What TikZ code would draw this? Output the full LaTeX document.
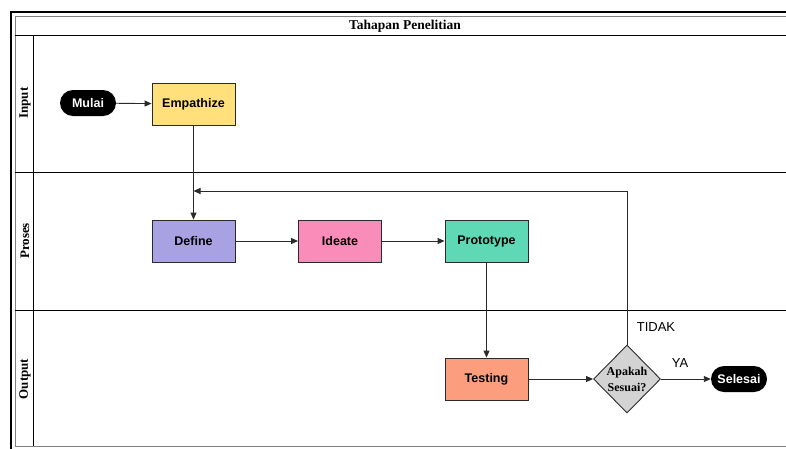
\documentclass[tikz,border=0pt]{standalone}
\usepackage{fontspec}
\setmainfont{Liberation Serif}
\setsansfont{Liberation Sans}
\usetikzlibrary{shapes.geometric,arrows.meta}
\definecolor{cEmp}{HTML}{FFE07A}
\definecolor{cDef}{HTML}{A8A2E3}
\definecolor{cIde}{HTML}{F98CB9}
\definecolor{cPro}{HTML}{5FD8B6}
\definecolor{cTes}{HTML}{FC9E7E}
\definecolor{cDia}{HTML}{D3D3D3}
\definecolor{cLine}{HTML}{2A2A2A}
\tikzset{
  stepbox/.style={draw=cLine, line width=0.9pt, minimum width=83pt, minimum height=42pt, inner sep=0pt,
    font=\sffamily\bfseries\fontsize{12.5}{14}\selectfont},
  pill/.style={fill=black, text=white, rounded corners=13pt, minimum width=56pt, minimum height=26pt, inner sep=0pt,
    font=\sffamily\bfseries\fontsize{12.5}{14}\selectfont},
  conn/.style={draw=cLine, line width=0.9pt, -{Triangle[length=7pt,width=6pt]}},
  lanelabel/.style={rotate=90, font=\rmfamily\bfseries\fontsize{13}{15}\selectfont},
  edgelabel/.style={font=\sffamily\fontsize{13}{15}\selectfont}
}
\begin{document}
\begin{tikzpicture}[x=1pt,y=-1pt]
\useasboundingbox (0,0) rectangle (786,448);
\begin{scope}
\clip (0,0) rectangle (786,448);
% outer frame
\draw[line width=2pt, black] (11,12) rectangle (800,460);
\draw[line width=1pt, gray] (15,16) rectangle (796,446);
% title row
\draw[line width=1pt] (15,35) -- (796,35);
\node[font=\rmfamily\bfseries\fontsize{13.5}{15}\selectfont] (title) at (405,26) {Tahapan Penelitian};
% lane label column
\draw[line width=1pt] (33,35) -- (33,446);
% lane dividers
\draw[line width=1pt] (15,172) -- (796,172);
\draw[line width=1pt] (15,310) -- (796,310);
\end{scope}
\node[lanelabel] (lin) at (25,103) {Input};
\node[lanelabel] (lpr) at (25,241) {Proses};
\node[lanelabel] (lout) at (25,379) {Output};

% nodes
\node[pill] (mulai) at (88,103) {Mulai};
\node[stepbox, fill=cEmp] (emp) at (193.5,104) {Empathize};
\node[stepbox, fill=cDef] (def) at (193.5,241) {Define};
\node[stepbox, fill=cIde] (ide) at (340,241) {Ideate};
\node[stepbox, fill=cPro] (pro) at (486.5,241) {Prototype};
\node[stepbox, fill=cTes] (tes) at (486.5,379) {Testing};
\node[diamond, draw=cLine, line width=0.9pt, fill=cDia, minimum width=67pt, minimum height=68pt, inner sep=0pt,
  label={[align=center, font=\rmfamily\bfseries\fontsize{12}{16}\selectfont]center:Apakah\\Sesuai?}] (dec) at (627,379) {};
\node[pill] (selesai) at (739,379) {Selesai};

\coordinate (fb) at (193.5,191);

% connectors
\draw[conn] (mulai) -- (emp);
\draw[conn] (emp) -- (def);
\draw[conn] (def) -- (ide);
\draw[conn] (ide) -- (pro);
\draw[conn] (pro) -- (tes);
\draw[conn] (tes) -- (dec);
\draw[conn] (dec) -- (selesai);
\draw[conn] (dec.north) |- (fb);

\node[edgelabel] (tidak) at (656,327) {TIDAK};
\node[edgelabel] (ya) at (680,363) {YA};
\end{tikzpicture}
\end{document}
